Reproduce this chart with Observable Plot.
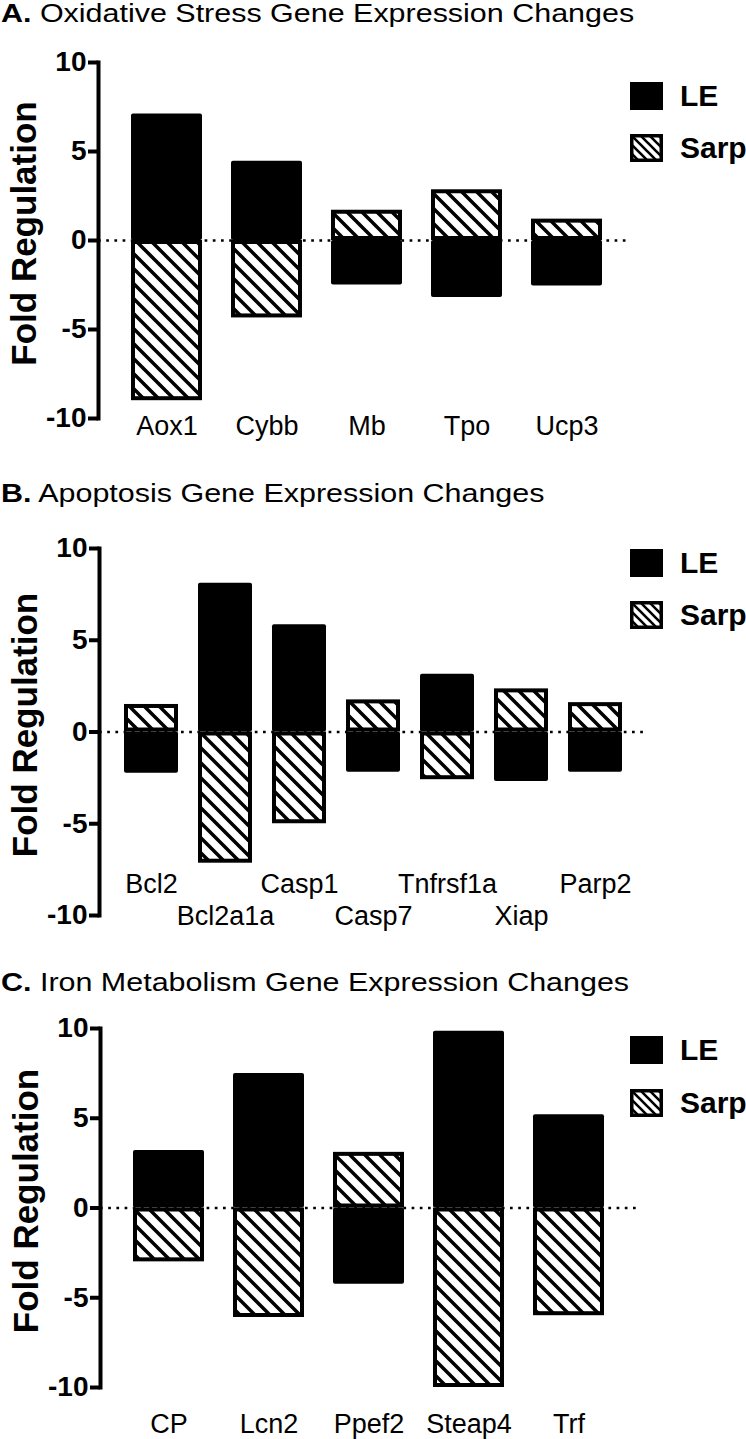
<!DOCTYPE html>
<html>
<head>
<meta charset="utf-8">
<script src="https://cdn.jsdelivr.net/npm/d3@7"></script>
<script src="https://cdn.jsdelivr.net/npm/@observablehq/plot@0.6"></script>
<style>
  body { margin: 0; background: white; }
  #page { position: relative; width: 746px; height: 1439px; background: white; overflow: hidden;
          font-family: 'Liberation Sans', Arial, Helvetica, sans-serif; color: black; }
  .title { position: absolute; left: 1px; font-size: 25.6px; line-height: 25.6px; white-space: nowrap;
           transform: scaleX(1.19); transform-origin: left top; }
  .title b { font-weight: bold; }
  .legbox { position: absolute; left: 630px; width: 33px; height: 28px; }
  .legtext { position: absolute; left: 680px; font-size: 30px; line-height: 30px; font-weight: bold; white-space: nowrap; }
</style>
</head>
<body>
<svg width="0" height="0" style="position:absolute">
  <defs>
    <pattern id="hatch" patternUnits="userSpaceOnUse" width="15" height="15">
      <rect width="15" height="15" fill="white"/>
      <path d="M0,0L15,15M-3,12L3,18M12,-3L18,3" stroke="black" stroke-width="3.5"/>
    </pattern>
    <pattern id="hatchSmall" patternUnits="userSpaceOnUse" width="9" height="9">
      <rect width="9" height="9" fill="white"/>
      <path d="M0,0L9,9M-3,6L3,12M6,-3L12,3" stroke="black" stroke-width="2.6"/>
    </pattern>
  </defs>
</svg>
<div id="page"></div>
<script>
// ---- Data ----
const yTicks = [-10, -5, 0, 5, 10];
const seriesNames = ["LE", "Sarp"];

const titleA = ["A.", " Oxidative Stress Gene Expression Changes"];
const genesA = ["Aox1", "Cybb", "Mb", "Tpo", "Ucp3"];
const leA    = [7.1, 4.45, -2.5, -3.2, -2.55];
const sarpA  = [-9.0, -4.35, 1.7, 2.85, 1.2];

const titleB = ["B.", " Apoptosis Gene Expression Changes"];
const genesB = ["Bcl2", "Bcl2a1a", "Casp1", "Casp7", "Tnfrsf1a", "Xiap", "Parp2"];
const leB    = [-2.25, 8.1, 5.85, -2.2, 3.15, -2.7, -2.2];
const sarpB  = [1.5, -7.15, -5.0, 1.75, -2.6, 2.35, 1.6];
const labelsBRow1 = ["Bcl2", "Casp1", "Tnfrsf1a", "Parp2"];
const labelsBRow2 = ["Bcl2a1a", "Casp7", "Xiap"];

const titleC = ["C.", " Iron Metabolism Gene Expression Changes"];
const genesC = ["CP", "Lcn2", "Ppef2", "Steap4", "Trf"];
const leC    = [3.2, 7.5, -4.25, 9.85, 5.2];
const sarpC  = [-3.0, -6.1, 3.1, -10.0, -6.0];

const yLabel = "Fold Regulation";

// ---- Drawing ----
const page = document.getElementById("page");
const FONT = "'Liberation Sans', Arial, Helvetica, sans-serif";

function panel(cfg) {
  const data = cfg.genes.map((g, i) => ({gene: g, LE: cfg.le[i], Sarp: cfg.sarp[i]}));
  const labelMarks = cfg.labelRows.map(r => Plot.axisX({
    ticks: r.ticks, tickSize: 0, tickPadding: 0, dy: r.dy, fontSize: 27, label: null
  }));
  const svg = Plot.plot({
    width: 746,
    height: cfg.height,
    marginTop: cfg.marginTop,
    marginBottom: cfg.marginBottom,
    marginLeft: cfg.marginLeft,
    marginRight: cfg.marginRight,
    style: {background: "transparent", fontFamily: FONT, overflow: "visible"},
    x: {domain: cfg.genes, range: cfg.xRange, paddingInner: cfg.pIn, paddingOuter: cfg.pIn / 2},
    y: {domain: [-10, 10]},
    marks: [
      Plot.ruleY([0], {stroke: "black", strokeWidth: 2.7, strokeDasharray: "2.7 5.5"}),
      Plot.barY(data, {x: "gene", y: "LE", fill: "black", rx: 2}),
      Plot.barY(data, {x: "gene", y: "Sarp", fill: "url(#hatch)", stroke: "black", strokeWidth: 4, inset: 2}),
      Plot.frame({anchor: "left", stroke: "black", strokeWidth: 4, strokeLinecap: "square"}),
      Plot.axisY({ticks: yTicks, tickFormat: d => String(d), tickSize: 10, tickPadding: 2,
                  strokeWidth: 4, fontSize: 28, fontWeight: "bold", label: null}),
      ...labelMarks,
      Plot.text([yLabel], {frameAnchor: "left", textAnchor: "middle", rotate: -90, lineAnchor: "bottom",
                           dx: -63, dy: cfg.labelDy, fontSize: 35, fontWeight: "bold", fill: "black"})
    ]
  });
  svg.style.position = "absolute";
  svg.style.left = "0px";
  svg.style.top = cfg.top + "px";
  page.appendChild(svg);

  const t = document.createElement("div");
  t.className = "title";
  t.style.top = cfg.titleTop + "px";
  const b = document.createElement("b");
  b.textContent = cfg.title[0];
  t.appendChild(b);
  t.appendChild(document.createTextNode(cfg.title[1]));
  page.appendChild(t);

  // legend
  const box1 = document.createElement("div");
  box1.className = "legbox";
  box1.style.top = cfg.legTop + "px";
  box1.style.background = "black";
  page.appendChild(box1);
  const box2 = document.createElementNS("http://www.w3.org/2000/svg", "svg");
  box2.setAttribute("width", 33); box2.setAttribute("height", 28);
  box2.setAttribute("class", "legbox");
  box2.style.top = (cfg.legTop + cfg.legGap) + "px";
  box2.innerHTML = '<rect x="1.75" y="1.75" width="29.5" height="24.5" fill="url(#hatchSmall)" stroke="black" stroke-width="3.5"/>';
  page.appendChild(box2);
  seriesNames.forEach((s, i) => {
    const d = document.createElement("div");
    d.className = "legtext";
    d.style.top = (cfg.legTop - 1.5 + i * cfg.legGap) + "px";
    d.textContent = s;
    page.appendChild(d);
  });
}

panel({
  title: titleA, titleTop: 1.3, genes: genesA, le: leA, sarp: sarpA,
  top: 0, height: 442, marginTop: 62, marginBottom: 24, marginLeft: 98, marginRight: 118,
  xRange: [116, 616], pIn: 0.29, labelDy: -7,
  labelRows: [{ticks: genesA, dy: -3}],
  legTop: 82, legGap: 52
});
panel({
  title: titleB, titleTop: 481.3, genes: genesB, le: leB, sarp: sarpB,
  top: 442, height: 498, marginTop: 106, marginBottom: 25, marginLeft: 99, marginRight: 101,
  xRange: [111.6, 635.4], pIn: 0.27, labelDy: -7,
  labelRows: [{ticks: labelsBRow1, dy: -42}, {ticks: labelsBRow2, dy: -10}],
  legTop: 549, legGap: 52
});
panel({
  title: titleC, titleTop: 970.3, genes: genesC, le: leC, sarp: sarpC,
  top: 940, height: 499, marginTop: 88, marginBottom: 52, marginLeft: 100, marginRight: 110,
  xRange: [118.5, 618.5], pIn: 0.29, labelDy: -7,
  labelRows: [{ticks: genesC, dy: 26}],
  legTop: 1036, legGap: 53
});
</script>
</body>
</html>
